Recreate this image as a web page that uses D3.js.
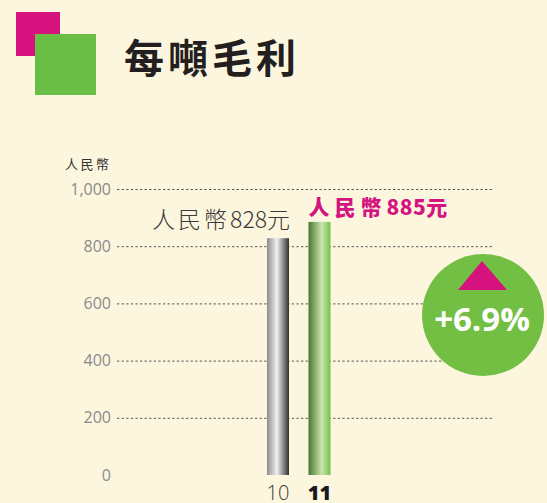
<!DOCTYPE html>
<html lang="zh-Hant">
<head>
    <meta charset="UTF-8">
    <title>每噸毛利</title>
    <script src="https://cdn.jsdelivr.net/npm/d3@7/dist/d3.min.js"></script>
    <style>
        html, body {
            margin: 0;
            padding: 0;
            background: #fdf6df;
        }
        svg {
            display: block;
            font-family: "Noto Sans CJK TC", "Noto Sans", sans-serif;
        }
        svg .y-axis .domain {
            display: none;
        }
        svg .y-axis .tick line {
            stroke: #555;
            stroke-dasharray: 2.3, 2.3;
        }
        svg .y-axis .tick text {
            fill: #8a8a8a;
            font-size: 16px;
            font-family: "Open Sans", sans-serif;
        }
    </style>
</head>
<body>
<svg width="547" height="503"></svg>
<script>

    var months = ['10', '11'],
        values = [828, 885],
        currency = '人民幣',
        valueLabels = ['828元', '885元'],
        yTicks = [0, 200, 400, 600, 800, 1000],
        changeLabel = '+6.9%';

    var svg = d3.select('svg');

    var gridLeft = 117,
        gridRight = 492,
        yScale = d3.scaleLinear().domain([0, 1000]).range([475, 189]),
        xScale = d3.scalePoint().domain(months).range([278, 319.5]),
        barWidth = 22;

    // gradients for the two bars
    var defs = svg.append('defs');
    var greyGrad = defs.append('linearGradient').attr('id', 'grey-bar');
    greyGrad.append('stop').attr('offset', '0%').attr('stop-color', '#8c8c8e');
    greyGrad.append('stop').attr('offset', '45%').attr('stop-color', '#f2f2f2');
    greyGrad.append('stop').attr('offset', '100%').attr('stop-color', '#2f2f30');

    var greenGrad = defs.append('linearGradient').attr('id', 'green-bar');
    greenGrad.append('stop').attr('offset', '0%').attr('stop-color', '#4a7630');
    greenGrad.append('stop').attr('offset', '60%').attr('stop-color', '#cbe4b0');
    greenGrad.append('stop').attr('offset', '100%').attr('stop-color', '#76c04a');

    // header squares + title
    svg.append('rect').attr('x', 16).attr('y', 12).attr('width', 44).attr('height', 44)
        .attr('fill', '#d6127e');
    svg.append('rect').attr('x', 35).attr('y', 34).attr('width', 61).attr('height', 61)
        .attr('fill', '#6abd45');
    svg.append('text')
        .attr('x', 124).attr('y', 73)
        .attr('font-size', 40)
        .attr('font-weight', 700)
        .attr('letter-spacing', 4)
        .attr('fill', '#231f20')
        .text('每噸毛利');

    // unit label
    svg.append('text')
        .attr('x', 65).attr('y', 169)
        .attr('font-size', 13)
        .attr('letter-spacing', 2.5)
        .attr('fill', '#333')
        .text(currency);

    var yAxis = d3.axisLeft(yScale)
        .tickValues(yTicks)
        .tickFormat(d3.format(','))
        .tickSize(-(gridRight - gridLeft))
        .tickPadding(6);

    var axisG = svg.append('g')
        .classed('y-axis', true)
        .attr('transform', 'translate(' + [gridLeft, 0] + ')')
        .call(yAxis);

    axisG.selectAll('.tick')
        .filter(function(d) { return d === 0; })
        .select('line').remove();

    // bars
    svg.selectAll('.bar')
        .data(values)
        .enter()
        .append('rect')
        .classed('bar', true)
        .attr('x', function(d, i) { return xScale(months[i]) - barWidth / 2; })
        .attr('y', function(d) { return yScale(d); })
        .attr('width', barWidth)
        .attr('height', function(d) { return yScale(0) - yScale(d); })
        .attr('fill', function(d, i) { return i === 0 ? 'url(#grey-bar)' : 'url(#green-bar)'; });

    // value labels
    var lbl1 = svg.append('text')
        .attr('x', xScale(months[0]) + barWidth / 2 + 1)
        .attr('y', yScale(values[0]) - 10)
        .attr('text-anchor', 'end')
        .attr('font-size', 23)
        .attr('font-weight', 300)
        .attr('fill', '#3a3a3a');
    lbl1.append('tspan').attr('letter-spacing', 3).text(currency);
    lbl1.append('tspan').text(valueLabels[0]);

    var lbl2 = svg.append('text')
        .attr('x', xScale(months[1]) - barWidth / 2)
        .attr('y', yScale(values[1]) - 7)
        .attr('font-size', 21)
        .attr('font-weight', 900)
        .attr('fill', '#d4147f');
    lbl2.append('tspan').attr('letter-spacing', 5).text(currency);
    lbl2.append('tspan').attr('letter-spacing', 0.5).text(valueLabels[1]);

    // month labels
    svg.selectAll('.month')
        .data(months)
        .enter()
        .append('text')
        .classed('month', true)
        .attr('x', function(d) { return xScale(d); })
        .attr('y', 500)
        .attr('text-anchor', 'middle')
        .attr('font-family', '"Open Sans", sans-serif')
        .attr('font-size', 20)
        .attr('font-weight', function(d, i) { return i === 1 ? 800 : 300; })
        .attr('fill', function(d, i) { return i === 1 ? '#1a1a1a' : '#3a3a3a'; })
        .text(function(d) { return d; });

    // change badge
    var badge = svg.append('g').attr('transform', 'translate(483,315)');
    badge.append('circle').attr('r', 61).attr('fill', '#72bf44');
    badge.append('path')
        .attr('d', 'M-1,-54L24,-25L-25,-25Z')
        .attr('fill', '#d6127e');
    badge.append('text')
        .attr('x', -1).attr('y', 16)
        .attr('text-anchor', 'middle')
        .attr('font-family', '"Open Sans", sans-serif')
        .attr('font-size', 33)
        .attr('font-weight', 700)
        .attr('fill', '#fff')
        .text(changeLabel);

</script>
</body>
</html>
